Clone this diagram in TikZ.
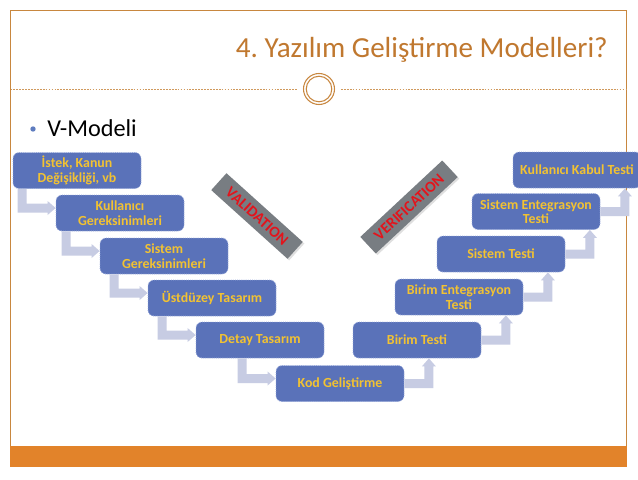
\documentclass[tikz,border=0pt]{standalone}
\usepackage{fontspec}
\setmainfont{Carlito}
\frenchspacing
\usetikzlibrary{calc,shadows}
\definecolor{boxblue}{HTML}{5A72B9}
\definecolor{boxedge}{HTML}{9AABDD}
\definecolor{boxtext}{HTML}{F2C232}
\definecolor{arrowc}{HTML}{C7CCE3}
\definecolor{titlec}{HTML}{C0782F}
\definecolor{framec}{HTML}{C8873F}
\definecolor{barc}{HTML}{E2832A}
\definecolor{bulletc}{HTML}{5E7CBF}
\definecolor{bannerc}{HTML}{787D82}
\definecolor{bannertext}{HTML}{E3141C}
\newcommand\downrightarrow[2]{%
  \fill[arrowc] let \p1=(#1.south), \p2=(#2.west) in
    (\x2-28.5pt,\y1) -- (\x2-21.75pt,\y1) -- (\x2-21.75pt,\y2+7.125pt)
    -- (\x2-6pt,\y2+7.125pt) -- (\x2-6pt,\y2+9pt) -- (\x2,\y2+3.75pt)
    -- (\x2-6pt,\y2-1.5pt) -- (\x2-6pt,\y2+0.375pt) -- (\x2-28.5pt,\y2+0.375pt) -- cycle;}
\newcommand\rightuparrow[2]{%
  \fill[arrowc] let \p1=(#1.east), \p2=(#2.south) in
    (\x1,\y1+3.375pt) -- (\x1+15pt,\y1+3.375pt) -- (\x1+15pt,\y2-6pt)
    -- (\x1+13.125pt,\y2-6pt) -- (\x1+18.375pt,\y2) -- (\x1+23.625pt,\y2-6pt)
    -- (\x1+21.75pt,\y2-6pt) -- (\x1+21.75pt,\y1-3.375pt) -- (\x1,\y1-3.375pt) -- cycle;}
\begin{document}
\begin{tikzpicture}[x=0.75pt,y=-0.75pt,
  vbox/.style={rectangle, rounded corners=4.5pt, fill=boxblue, draw=boxedge,
    densely dotted, line width=0.6pt, minimum width=96pt, minimum height=27pt,
    inner sep=1pt, align=center, text=boxtext,
    font=\bfseries\fontsize{10.4}{10.8}\selectfont},
  banner/.style={rectangle, fill=bannerc, minimum height=17pt, inner sep=0pt,
    text=bannertext, font=\bfseries\fontsize{11.6}{12}\selectfont,
    drop shadow={shadow xshift=1.2pt, shadow yshift=-1.2pt, opacity=0.25}},
  frameline/.style={draw=framec, line width=0.8pt},
  dashline/.style={draw=framec!85, line width=0.5pt, dash pattern=on 1.3pt off 0.9pt}]
\useasboundingbox (0,0) rectangle (638,479);
\fill[white] (0,0) rectangle (638,479);
% frame
\draw[frameline] (10.5,446) -- (10.5,10.5) -- (626.5,10.5) -- (626.5,446);
\fill[barc] (10,446) rectangle (627,467);
% title
\node[anchor=base east, inner sep=0pt, text=titlec,
  font=\fontsize{21.8}{26}\selectfont] (title) at (608,57) {4. Yazılım Geliştirme Modelleri?};
\draw[dashline] (10.5,89) -- (297,89);
\draw[dashline] (341,89) -- (626.5,89);
\draw[framec, line width=0.8pt] (319,89) circle[radius=15.5];
\draw[framec, line width=0.8pt] (319,89) circle[radius=12.8];
% bullet
\fill[bulletc] (33,129) circle[radius=2.7];
\node[anchor=base west, inner sep=0pt, font=\fontsize{18.2}{22}\selectfont] (vm) at (47,136) {V-Modeli};
% boxes
\node[vbox] (b1) at (77,170.5) {İstek, Kanun\\Değişikliği, vb};
\node[vbox] (b2) at (120,213) {Kullanıcı\\Gereksinimleri};
\node[vbox] (b3) at (164,256) {Sistem\\Gereksinimleri};
\node[vbox] (b4) at (212,298) {Üstdüzey Tasarım};
\node[vbox] (b5) at (260,340) {Detay Tasarım};
\node[vbox] (b6) at (340,383.5) {Kod Geliştirme};
\node[vbox] (b7) at (417,340) {Birim Testi};
\node[vbox] (b8) at (459,297) {Birim Entegrasyon\\Testi};
\node[vbox] (b9) at (501,254) {Sistem Testi};
\node[vbox] (b10) at (536,211.5) {Sistem Entegrasyon\\Testi};
\node[vbox] (b11) at (577,170) {Kullanıcı Kabul Testi};
% arrows
\downrightarrow{b1}{b2}
\downrightarrow{b2}{b3}
\downrightarrow{b3}{b4}
\downrightarrow{b4}{b5}
\downrightarrow{b5}{b6}
\rightuparrow{b6}{b7}
\rightuparrow{b7}{b8}
\rightuparrow{b8}{b9}
\rightuparrow{b9}{b10}
\rightuparrow{b10}{b11}
% banners
\node[banner, minimum width=77pt, rotate=-42] (val) at (257,216) {VALIDATION};
\node[banner, minimum width=84pt, rotate=43] (ver) at (409,207) {VERIFICATION};
\end{tikzpicture}
\end{document}
